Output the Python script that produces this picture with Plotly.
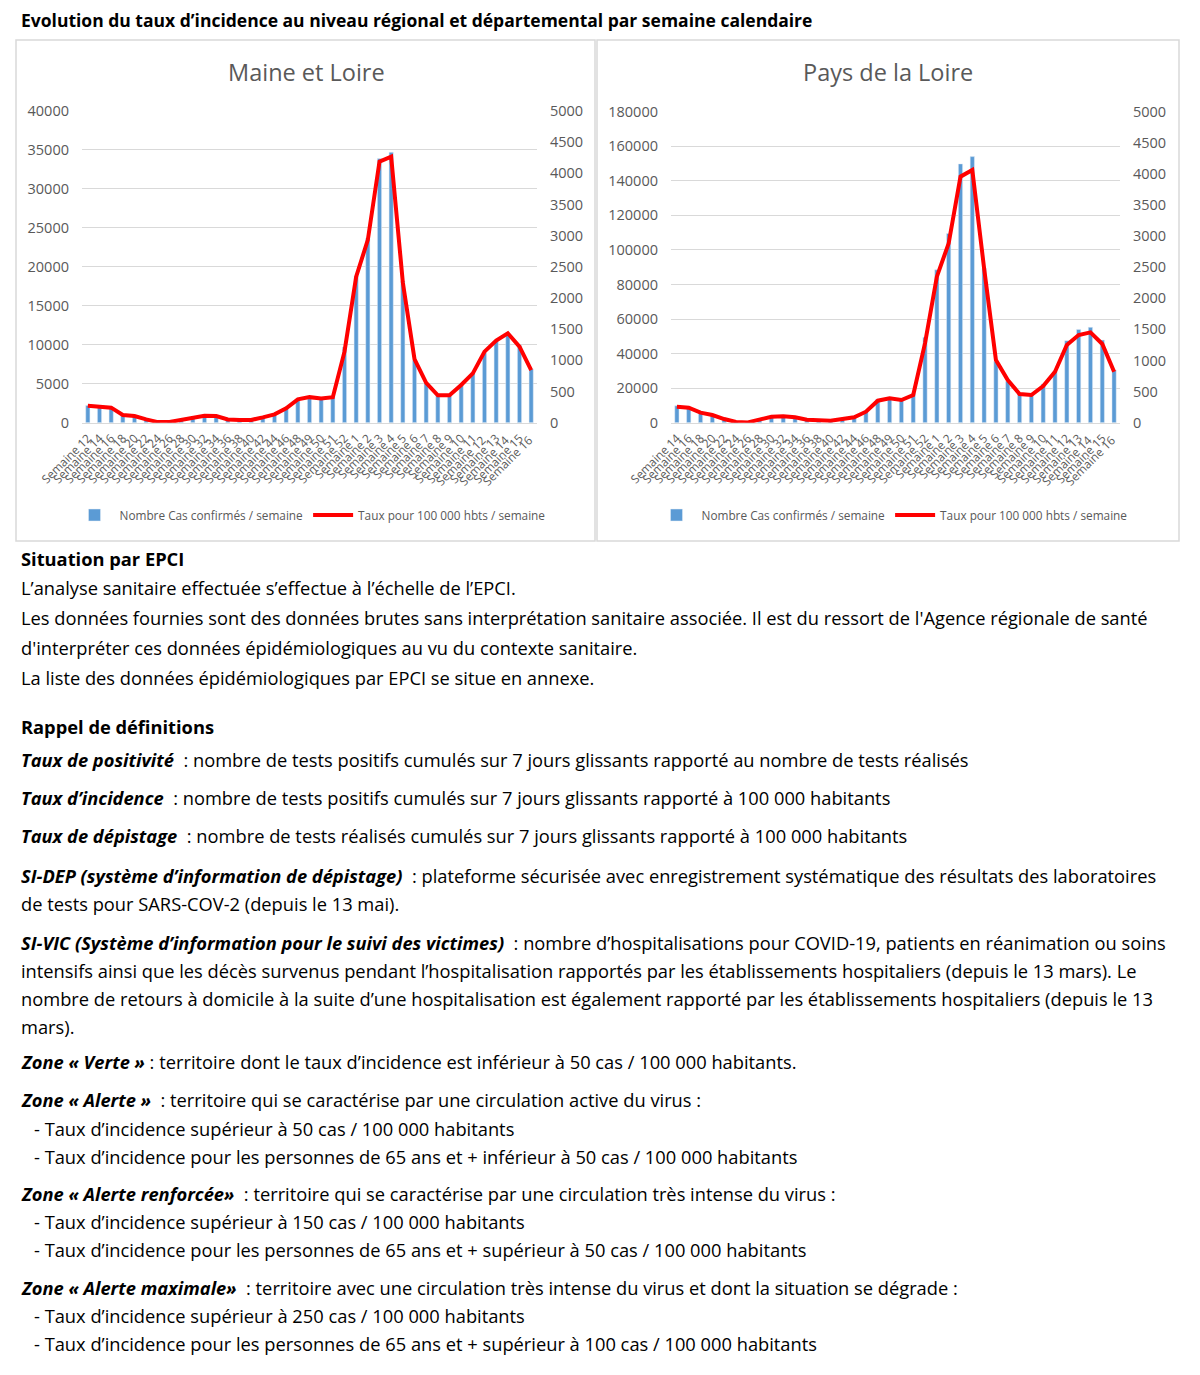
import plotly.graph_objects as go

# ---------------- DATA ----------------
weeks_ml = ["Semaine 12", "Semaine 14", "Semaine 16", "Semaine 18", "Semaine 20", "Semaine 22",
            "Semaine 24", "Semaine 26", "Semaine 28", "Semaine 30", "Semaine 32", "Semaine 34",
            "Semaine 36", "Semaine 38", "Semaine 40", "Semaine 42", "Semaine 44", "Semaine 46",
            "Semaine 48", "Semaine 49", "Semaine 50", "Semaine 51", "Semaine 52", "Semaine 1",
            "Semaine 2", "Semaine 3", "Semaine 4", "Semaine 5", "Semaine 6", "Semaine 7",
            "Semaine 8", "Semaine 9", "Semaine 10", "Semaine 11", "Semaine 12 ", "Semaine 13",
            "Semaine 14 ", "Semaine 15", "Semaine 16 "]
cases_ml = [2200, 2100, 1950, 1000, 880, 430, 120, 90, 350, 700, 920, 880,
            440, 350, 350, 700, 1100, 1900, 3050, 3350, 3200, 3350, 9700, 18800,
            23700, 33900, 34700, 18200, 8000, 5100, 3600, 3600, 4900, 6400, 9000, 10500,
            11500, 9900, 6900]
rate_ml = [273, 257, 241, 123, 107, 53, 10, 11, 43, 86, 112, 107,
           53, 43, 43, 86, 134, 230, 375, 410, 390, 410, 1140, 2343,
           2932, 4189, 4269, 2250, 1020, 640, 440, 440, 605, 792, 1140, 1316,
           1434, 1220, 845]

weeks_pdl = ["Semaine 14", "Semaine 16", "Semaine 18", "Semaine 20", "Semaine 22", "Semaine 24",
             "Semaine 26", "Semaine 28", "Semaine 30", "Semaine 32", "Semaine 34", "Semaine 36",
             "Semaine 38", "Semaine 40", "Semaine 42", "Semaine 44", "Semaine 46", "Semaine 48",
             "Semaine 49", "Semaine 50", "Semaine 51", "Semaine 52", "Semaine 1", "Semaine 2",
             "Semaine 3", "Semaine 4", "Semaine 5", "Semaine 6", "Semaine 7", "Semaine 8",
             "Semaine 9", "Semaine 10", "Semaine 11", "Semaine 12", "Semaine 13", "Semaine 14 ",
             "Semaine 15", "Semaine 16 "]
cases_pdl = [9800, 9200, 6200, 4700, 2300, 450, 300, 1700, 3700, 3900, 3300, 1900,
             1250, 1250, 2300, 3300, 6800, 13500, 14800, 13900, 16900, 49500, 88500, 109500,
             149800, 154000, 89400, 35500, 24000, 17200, 16900, 22400, 30000, 47500, 54000, 55200,
             47800, 30500]
rate_pdl = [257, 241, 161, 123, 59, 11, 5, 43, 96, 102, 86, 48,
            32, 32, 59, 86, 177, 354, 391, 365, 445, 1280, 2348, 2884,
            3956, 4063, 2480, 1008, 686, 461, 445, 590, 820, 1249, 1410, 1453,
            1265, 820]

bar_name = "Nombre Cas confirmés / semaine"
line_name = "Taux pour 100 000 hbts / semaine"

FONT = "Open Sans"
GRAY = "#595959"
BLUE = "#5B9BD5"
RED = "#FF0000"
W, H = 1200, 1375


def px(y):
    return 1 - y / H


def pxx(x):
    return x / W


fig = go.Figure()

fig.add_trace(go.Bar(x=weeks_ml, y=cases_ml, name=bar_name, marker_color=BLUE,
                     xaxis="x", yaxis="y", legend="legend"))
fig.add_trace(go.Scatter(x=weeks_ml, y=rate_ml, name=line_name, mode="lines",
                         line=dict(color=RED, width=4), xaxis="x", yaxis="y2", legend="legend"))
fig.add_trace(go.Bar(x=weeks_pdl, y=cases_pdl, name=bar_name, marker_color=BLUE,
                     xaxis="x2", yaxis="y3", legend="legend2"))
fig.add_trace(go.Scatter(x=weeks_pdl, y=rate_pdl, name=line_name, mode="lines",
                         line=dict(color=RED, width=4), xaxis="x2", yaxis="y4", legend="legend2"))

tickfont = dict(family=FONT, size=14.5, color=GRAY)
xtickfont = dict(family=FONT, size=11.8, color=GRAY)

common_x = dict(type="category", tickangle=-45, tickfont=xtickfont, showgrid=False,
                showline=True, linecolor="#d9d9d9", ticks="", dtick=1, automargin=False,
                fixedrange=True, ticklabelstandoff=3)
common_y = dict(tickfont=tickfont, showline=False, zeroline=False, ticks="",
                ticklabelstandoff=12, tickformat="d", automargin=False, fixedrange=True)

legend_font = dict(family=FONT, size=11.8, color=GRAY)

fig.update_layout(
    width=W, height=H,
    margin=dict(l=0, r=0, t=0, b=0, autoexpand=False),
    paper_bgcolor="white", plot_bgcolor="white",
    bargap=0.64,
    xaxis=dict(domain=[pxx(82), pxx(537)], anchor="y", **common_x),
    yaxis=dict(domain=[px(422.7), px(111)], range=[0, 40000], dtick=5000,
               showgrid=True, gridcolor="#d9d9d9", gridwidth=1, **common_y),
    yaxis2=dict(overlaying="y", side="right", anchor="x", range=[0, 5000], dtick=500,
                showgrid=False, **common_y),
    xaxis2=dict(domain=[pxx(671), pxx(1120)], anchor="y3", **common_x),
    yaxis3=dict(domain=[px(422.7), px(111.7)], range=[0, 180000], dtick=20000,
                showgrid=True, gridcolor="#d9d9d9", gridwidth=1, anchor="x2", **common_y),
    yaxis4=dict(overlaying="y3", side="right", anchor="x2", range=[0, 5000], dtick=500,
                showgrid=False, **common_y),
    legend=dict(orientation="h", x=pxx(310), xanchor="center", y=px(515), yanchor="middle",
                font=legend_font, bgcolor="rgba(0,0,0,0)", itemwidth=40, tracegroupgap=0),
    legend2=dict(orientation="h", x=pxx(892), xanchor="center", y=px(515), yanchor="middle",
                 font=legend_font, bgcolor="rgba(0,0,0,0)", itemwidth=40, tracegroupgap=0),
    showlegend=True,
)

shapes = [
    dict(type="rect", xref="paper", yref="paper", x0=pxx(16), x1=pxx(595), y0=px(541), y1=px(40),
         line=dict(color="#d9d9d9", width=1.5), fillcolor="rgba(0,0,0,0)", layer="below"),
    dict(type="rect", xref="paper", yref="paper", x0=pxx(597), x1=pxx(1179), y0=px(541), y1=px(40),
         line=dict(color="#d9d9d9", width=1.5), fillcolor="rgba(0,0,0,0)", layer="below"),
]
fig.update_layout(shapes=shapes)

BODY = 18.3
annotations = [
    dict(text="<b>Evolution du taux d’incidence au niveau régional et départemental par semaine calendaire</b>",
         x=pxx(19), y=px(20), xanchor="left", yanchor="middle", size=17.5),
    dict(text="Maine et Loire", x=pxx(306), y=px(72), xanchor="center", yanchor="middle",
         size=23.5, color=GRAY),
    dict(text="Pays de la Loire", x=pxx(888), y=px(72), xanchor="center", yanchor="middle",
         size=23.5, color=GRAY),
]

body = [
    (19, 558, "<b>Situation par EPCI</b>"),
    (19, 587, "L’analyse sanitaire effectuée s’effectue à l’échelle de l’EPCI."),
    (19, 617, "Les données fournies sont des données brutes sans interprétation sanitaire associée. Il est du ressort de l'Agence régionale de santé"),
    (19, 647, "d'interpréter ces données épidémiologiques au vu du contexte sanitaire."),
    (19, 677, "La liste des données épidémiologiques par EPCI se situe en annexe."),
    (19, 726, "<b>Rappel de définitions</b>"),
    (19, 759, "<b><i>Taux de positivité</i></b>  : nombre de tests positifs cumulés sur 7 jours glissants rapporté au nombre de tests réalisés"),
    (19, 797, "<b><i>Taux d’incidence</i></b>  : nombre de tests positifs cumulés sur 7 jours glissants rapporté à 100 000 habitants"),
    (19, 835, "<b><i>Taux de dépistage</i></b>  : nombre de tests réalisés cumulés sur 7 jours glissants rapporté à 100 000 habitants"),
    (19, 875, "<b><i>SI-DEP (système d’information de dépistage)</i></b>  : plateforme sécurisée avec enregistrement systématique des résultats des laboratoires"),
    (19, 904, "de tests pour SARS-COV-2 (depuis le 13 mai)."),
    (19, 942, "<b><i>SI-VIC (Système d’information pour le suivi des victimes)</i></b>  : nombre d’hospitalisations pour COVID-19, patients en réanimation ou soins"),
    (19, 970, "intensifs ainsi que les décès survenus pendant l’hospitalisation rapportés par les établissements hospitaliers (depuis le 13 mars). Le"),
    (19, 998, "nombre de retours à domicile à la suite d’une hospitalisation est également rapporté par les établissements hospitaliers (depuis le 13"),
    (19, 1026, "mars)."),
    (19, 1061, "<b><i>Zone « Verte »</i></b> : territoire dont le taux d’incidence est inférieur à 50 cas / 100 000 habitants."),
    (19, 1099, "<b><i>Zone « Alerte »</i></b>  : territoire qui se caractérise par une circulation active du virus :"),
    (32, 1128, "- Taux d’incidence supérieur à 50 cas / 100 000 habitants"),
    (32, 1156, "- Taux d’incidence pour les personnes de 65 ans et + inférieur à 50 cas / 100 000 habitants"),
    (19, 1193, "<b><i>Zone « Alerte renforcée»</i></b>  : territoire qui se caractérise par une circulation très intense du virus :"),
    (32, 1221, "- Taux d’incidence supérieur à 150 cas / 100 000 habitants"),
    (32, 1249, "- Taux d’incidence pour les personnes de 65 ans et + supérieur à 50 cas / 100 000 habitants"),
    (19, 1287, "<b><i>Zone « Alerte maximale»</i></b>  : territoire avec une circulation très intense du virus et dont la situation se dégrade :"),
    (32, 1315, "- Taux d’incidence supérieur à 250 cas / 100 000 habitants"),
    (32, 1343, "- Taux d’incidence pour les personnes de 65 ans et + supérieur à 100 cas / 100 000 habitants"),
]
for x, y, t in body:
    annotations.append(dict(text=t, x=pxx(x), y=px(y), xanchor="left", yanchor="middle", size=BODY))

ann_objs = []
for a in annotations:
    ann_objs.append(dict(text=a["text"], x=a["x"], y=a["y"], xref="paper", yref="paper",
                         xanchor=a["xanchor"], yanchor=a["yanchor"], showarrow=False,
                         font=dict(family=FONT, size=a["size"], color=a.get("color", "#000000"))))
fig.update_layout(annotations=ann_objs)

fig.write_html("out.html", config={"displayModeBar": False},
               post_script="document.body.style.margin='0px';")
